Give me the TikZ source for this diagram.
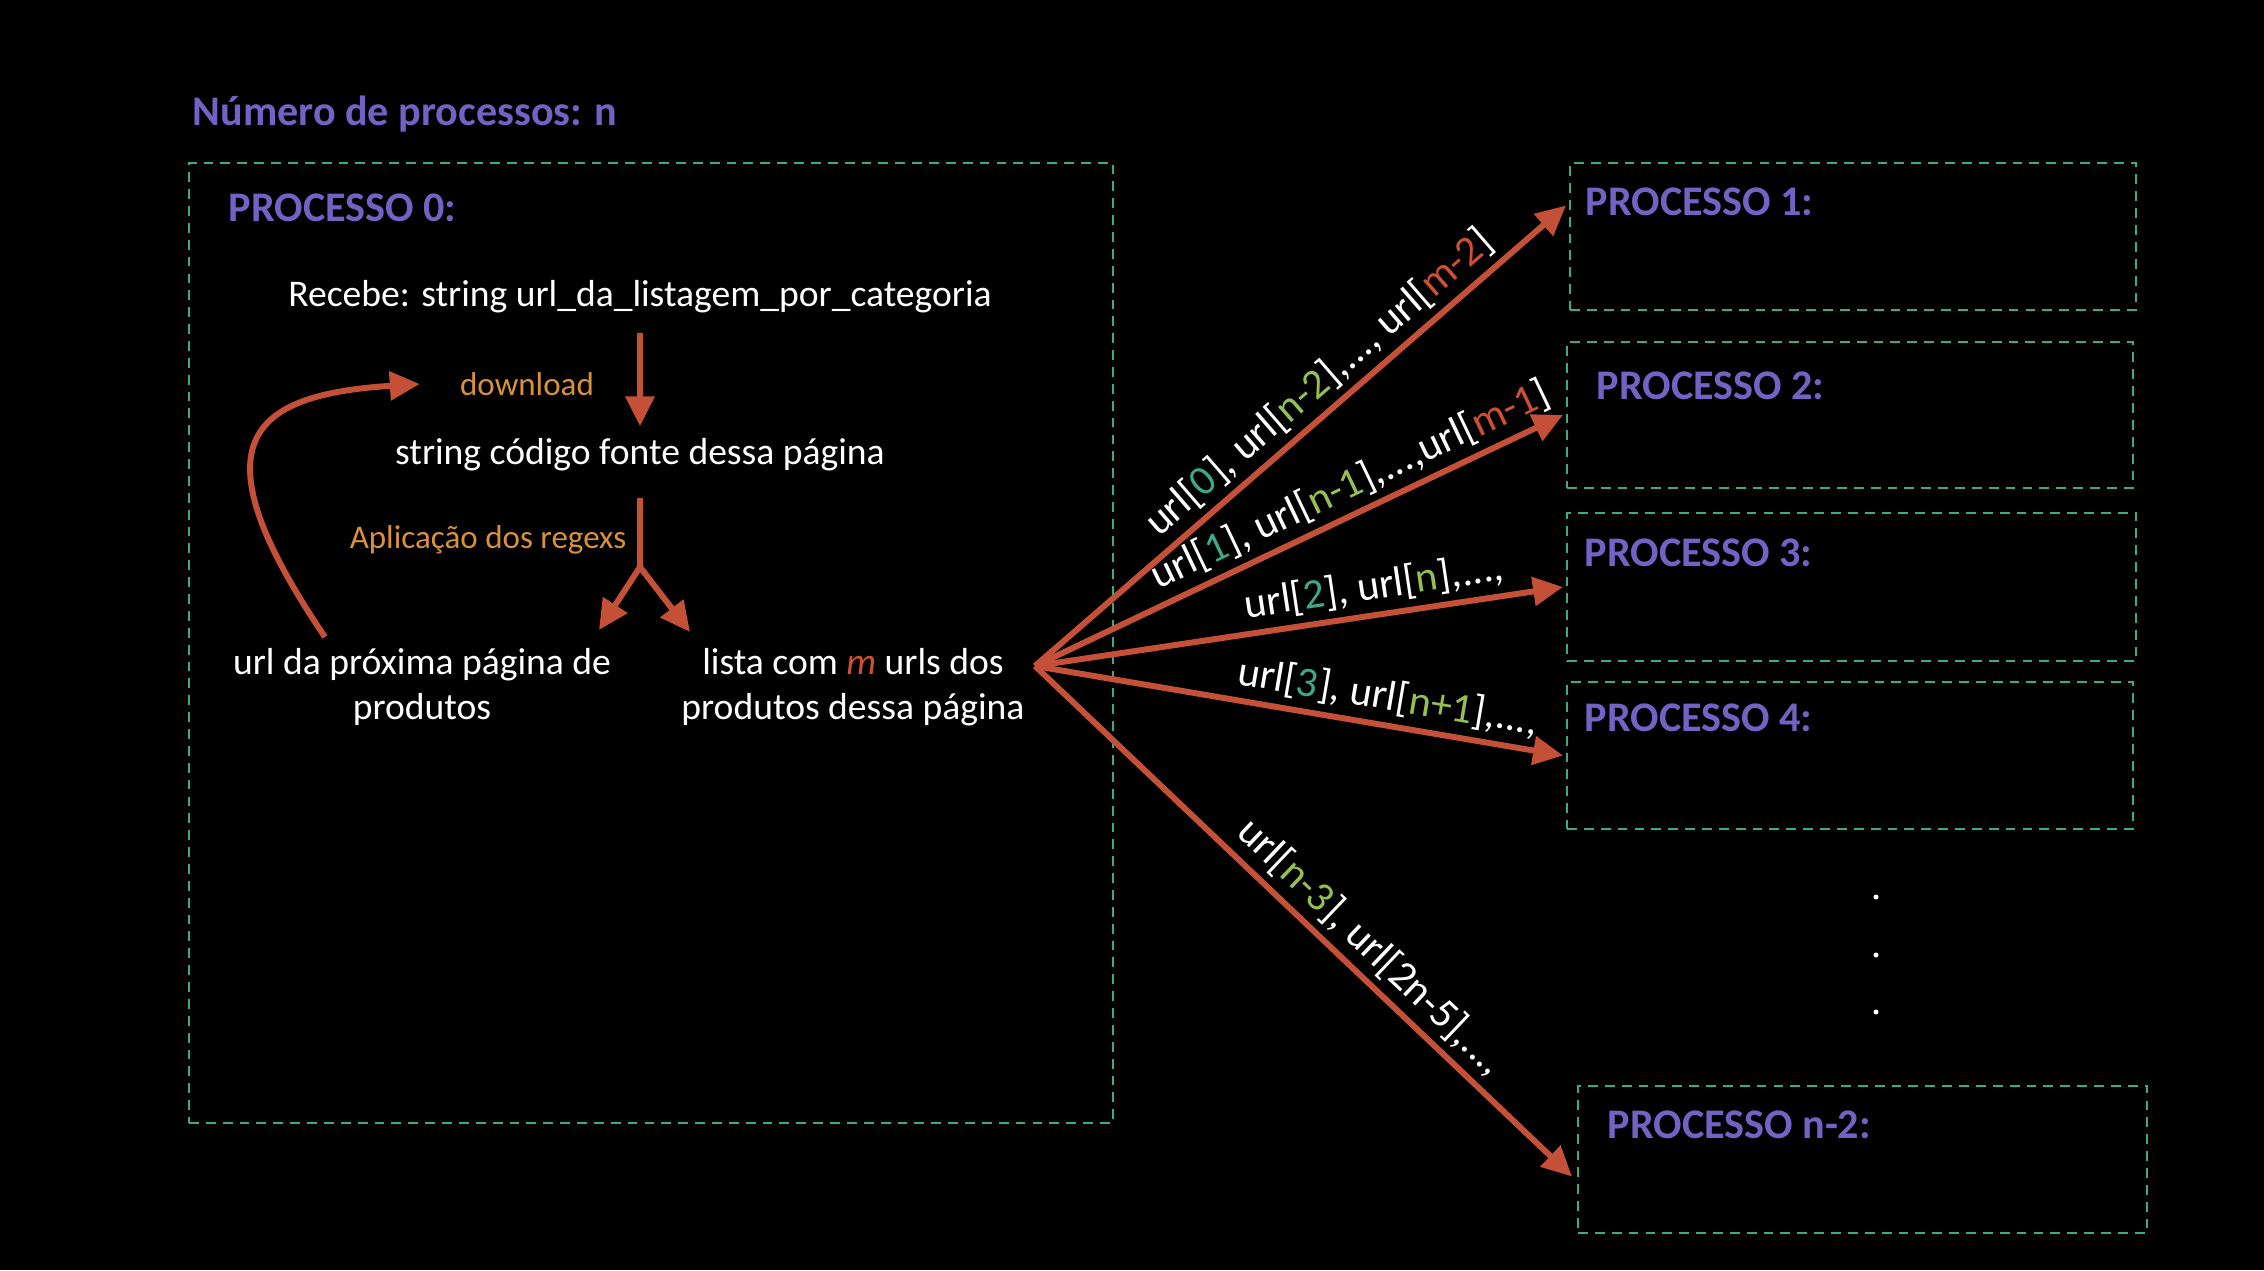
\documentclass[tikz,border=0pt]{standalone}
\usepackage{fontspec}
\setmainfont{Carlito}
\usepackage{xcolor}
\usepackage{tikz}
\usetikzlibrary{arrows.meta}

\definecolor{procpurple}{RGB}{114,98,196}
\definecolor{boxgreen}{RGB}{60,170,135}
\definecolor{arrowred}{RGB}{196,80,56}
\definecolor{labelorange}{RGB}{218,145,60}
\definecolor{idxteal}{RGB}{62,168,138}
\definecolor{idxlime}{RGB}{150,190,80}
\definecolor{idxred}{RGB}{205,80,50}

\begin{document}
\begin{tikzpicture}[
    procbox/.style={draw=boxgreen, dash pattern=on 2.8pt off 2pt, line width=0.6pt},
    proclabel/.style={anchor=west, inner sep=0pt, text=procpurple, font=\fontsize{12}{14}\selectfont\bfseries},
    bodytext/.style={text=white, font=\fontsize{10.7}{12.8}\selectfont, align=center},
    steptext/.style={text=labelorange, font=\fontsize{9.4}{11}\selectfont},
    flow/.style={draw=arrowred, line width=1.7pt},
    flowarrow/.style={flow, -{Triangle[length=8.5pt, width=8pt]}},
    urllabel/.style={text=white, font=\fontsize{12}{14}\selectfont, sloped, above, inner sep=2pt}
  ]

    % background and margins
    \fill[black] (0,0) rectangle (22.64,-12.70);
    \useasboundingbox (0,0) rectangle (22.64,-12.70);

    \node[proclabel] (title) at (1.92,-1.14) {Número de processos: n};

    % Process 0
    \node[procbox, minimum width=9.24cm, minimum height=9.60cm] (p0) at (6.51,-6.43) {};
    \node[proclabel] (p0label) at (2.28,-2.08) {PROCESSO 0:};

    \node[bodytext] (recebe) at (6.40,-2.97) {Recebe: string url\_da\_listagem\_por\_categoria};
    \node[bodytext] (codigo) at (6.40,-4.55) {string código fonte dessa página};
    \node[steptext] (download) at (5.27,-3.84) {download};
    \node[steptext] (regex) at (4.88,-5.40) {Aplicação dos regexs};
    \node[bodytext] (proxima) at (4.22,-6.87) {url da próxima página de\\produtos};
    \node[bodytext] (lista) at (8.53,-6.87)
        {lista com \textcolor{idxred}{\itshape m} urls dos\\produtos dessa página};

    % Other processes
    \node[procbox, minimum width=5.66cm, minimum height=1.47cm] (p1) at (18.53,-2.365) {};
    \node[procbox, minimum width=5.66cm, minimum height=1.46cm] (p2) at (18.50,-4.15) {};
    \node[procbox, minimum width=5.69cm, minimum height=1.48cm] (p3) at (18.515,-5.87) {};
    \node[procbox, minimum width=5.66cm, minimum height=1.47cm] (p4) at (18.50,-7.555) {};
    \node[procbox, minimum width=5.69cm, minimum height=1.47cm] (pn) at (18.625,-11.595) {};

    \node[proclabel] (p1label) at (15.85,-2.02) {PROCESSO 1:};
    \node[proclabel] (p2label) at (15.96,-3.86) {PROCESSO 2:};
    \node[proclabel] (p3label) at (15.84,-5.53) {PROCESSO 3:};
    \node[proclabel] (p4label) at (15.84,-7.18) {PROCESSO 4:};
    \node[proclabel] (pnlabel) at (16.07,-11.25) {PROCESSO n-2:};

    \foreach \y in {-8.97,-9.55,-10.12}
      \fill[white] (18.76,\y) circle (0.025);

    % --------------------
    % Arrows
    % --------------------

    \coordinate (split) at (6.40,-5.67);
    \coordinate (splitL) at (5.99,-6.30);
    \coordinate (splitR) at (6.90,-6.32);
    \coordinate (loopstart) at (3.25,-6.37);
    \coordinate (fan) at (10.35,-6.66);

    \draw[flowarrow, shorten <=2pt] (recebe.south) -- (codigo.north);
    \draw[flow, shorten <=4pt] (codigo.south) -- (split);
    \draw[flowarrow] (split) -- (splitL);
    \draw[flowarrow] (split) -- (splitR);

    \draw[flowarrow] (loopstart) .. controls (1.95,-4.45) and (2.45,-3.95) .. ([xshift=-0.28cm]download.west);

    \draw[flowarrow] (fan) -- ([xshift=-0.03cm, yshift=0.31cm]p1.west)
        node[urllabel, pos=0.57] {url[\textcolor{idxteal}{0}], url[\textcolor{idxlime}{n-2}],..., url[\textcolor{idxred}{m-2}]};
    \draw[flowarrow] (fan) -- ([xshift=-0.03cm]p2.west)
        node[urllabel, pos=0.62] {url[\textcolor{idxteal}{1}], url[\textcolor{idxlime}{n-1}],...,url[\textcolor{idxred}{m-1}]};
    \draw[flowarrow] (fan) -- ([xshift=-0.03cm]p3.west)
        node[urllabel, pos=0.65] {url[\textcolor{idxteal}{2}], url[\textcolor{idxlime}{n}],...,};
    \draw[flowarrow] (fan) -- ([xshift=-0.03cm]p4.west)
        node[urllabel, pos=0.66] {url[\textcolor{idxteal}{3}], url[\textcolor{idxlime}{n+1}],...,};
    \draw[flowarrow] (fan) -- ([xshift=-0.05cm, yshift=-0.17cm]pn.west)
        node[urllabel, pos=0.59] {url[\textcolor{idxlime}{n-3}], url[2n-5],...,};

  \end{tikzpicture}
\end{document}
